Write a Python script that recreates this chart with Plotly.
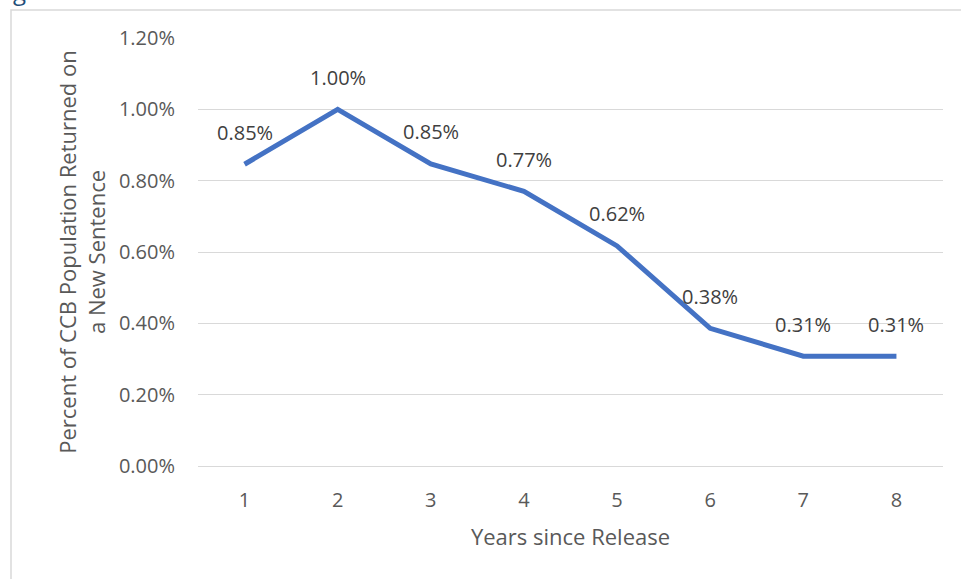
import plotly.graph_objects as go

years = [1, 2, 3, 4, 5, 6, 7, 8]
pct = [0.00846, 0.0100, 0.00847, 0.00770, 0.00617, 0.00386, 0.00308, 0.00308]
labels = ["0.85%", "1.00%", "0.85%", "0.77%", "0.62%", "0.38%", "0.31%", "0.31%"]
y_ticks = [0, 0.002, 0.004, 0.006, 0.008, 0.010, 0.012]
y_ticktext = ["0.00%", "0.20%", "0.40%", "0.60%", "0.80%", "1.00%", "1.20%"]

FONT = "Open Sans"
W, H = 961, 579
L, R, T, B = 198, 18, 38, 113
pw, ph = W - L - R, H - T - B

fig = go.Figure()
fig.add_trace(go.Scatter(
    x=years, y=pct, mode="lines",
    line=dict(color="#4472c4", width=5),
    hoverinfo="skip", showlegend=False,
))
for xv, yv, t in zip(years, pct, labels):
    fig.add_annotation(x=xv, y=yv, text=t, showarrow=False, yshift=32,
                       font=dict(family=FONT, size=20, color="#404040"))

def px_x(p):
    return (p - L) / pw

def px_y(p):
    return (H - B - p) / ph

fig.add_shape(type="rect", xref="paper", yref="paper",
              x0=px_x(11), x1=px_x(975), y0=px_y(595), y1=px_y(10),
              line=dict(color="#d9d9d9", width=1.5), fillcolor="rgba(0,0,0,0)")
fig.add_annotation(xref="paper", yref="paper", x=px_x(11), y=px_y(9),
                   xanchor="left", yanchor="bottom", text="g", showarrow=False,
                   font=dict(family=FONT, size=24, color="#1f4e79"))

fig.update_layout(
    width=W, height=H,
    margin=dict(l=L, r=R, t=T, b=B, autoexpand=False),
    paper_bgcolor="white", plot_bgcolor="white",
    font=dict(family=FONT, size=20, color="#595959"),
    xaxis=dict(
        range=[0.5, 8.5], tickmode="array", tickvals=years,
        ticktext=[str(v) for v in years], showgrid=False, zeroline=False,
        showline=False, ticks="", ticklen=0, ticklabelstandoff=20,
        tickfont=dict(family=FONT, size=20, color="#595959"),
        title=dict(text="Years since Release", standoff=17,
                   font=dict(family=FONT, size=22, color="#595959")),
    ),
    yaxis=dict(
        range=[0, 0.012], tickmode="array", tickvals=y_ticks, ticktext=y_ticktext,
        showgrid=True, gridcolor="#d9d9d9", gridwidth=1,
        zeroline=True, zerolinecolor="#d9d9d9", zerolinewidth=1,
        showline=False, ticks="", ticklen=0, ticklabelstandoff=22,
        tickfont=dict(family=FONT, size=20, color="#595959"),
        title=dict(text="Percent of CCB Population Returned on<br>a New Sentence",
                   standoff=7, font=dict(family=FONT, size=22, color="#595959")),
    ),
)
fig.write_html("out.html", config={"displayModeBar": False},
               post_script="document.body.style.margin='0';")
